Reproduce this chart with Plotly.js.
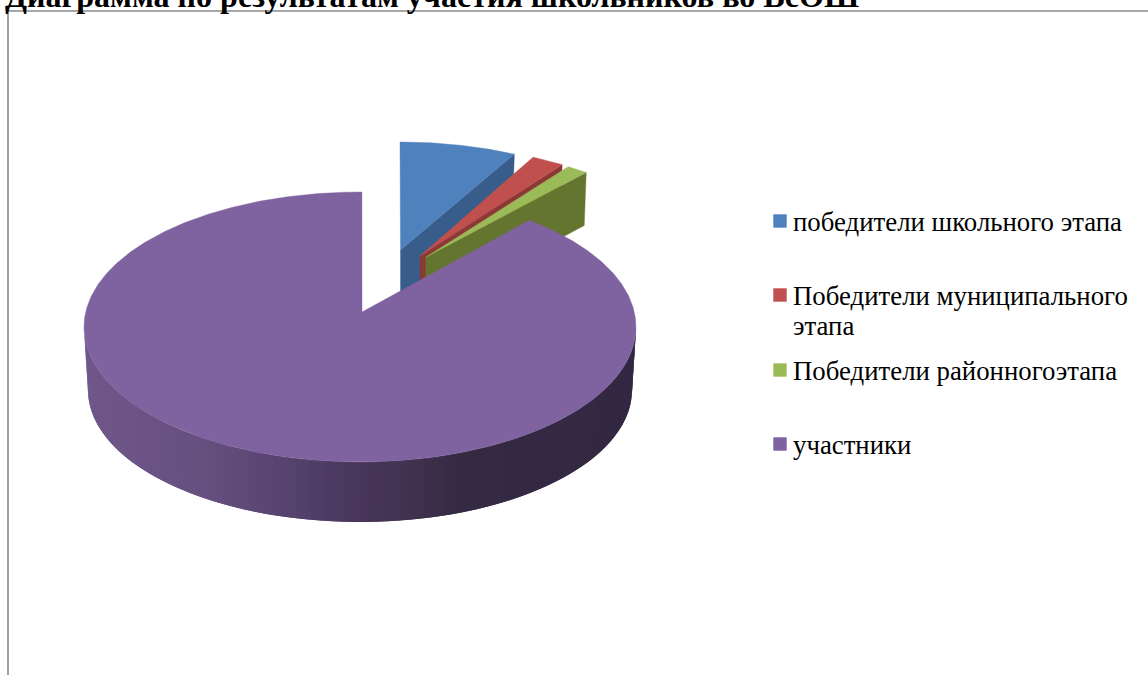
<!DOCTYPE html>
<html><head><meta charset="utf-8">
<script src="https://cdn.plot.ly/plotly-3.0.1.min.js"></script>
<style>html,body{margin:0;padding:0;background:#fff;overflow:hidden}#c{width:1148px;height:675px}</style>
</head><body><div id="c"></div>
<script>
// data (percent of all participants)
const categories = ['победители школьного этапа','Победители муниципального<br>этапа','Победители районногоэтапа','участники'];
const values = [6.8, 1.9, 1.25, 90.05];
const chartTitle = 'Диаграмма по результатам участия школьников во ВсОШ';

// styles
const topColors = ['#4f81bd','#c0504d','#9bbb59','#7f62a0'];
const cutColors = ['#385d8a','#8c3836','#647530','#4a3a5e'];

// projection of the tilted pie, in the pixel-sized axes
const rim = {rx:276, ry:135};
const rimCenters = [[400,277],[418.7,280],[424.7,282],[360,327]];
const apexes = [[400.5,250],[420,256],[425.7,257.3],[362,312]];
const startPad = [0,0,0,2];
const endPad = [0,0,0,0.4];
const depth = [58,55,53,63];
const serif = '"Liberation Serif","Times New Roman",serif';

function rimPoint(i,deg){
  const a = deg*Math.PI/180, c = rimCenters[i];
  return [c[0]+rim.rx*Math.sin(a), c[1]-rim.ry*Math.cos(a)];
}
function poly(pts,fill,lineWidth){
  return {x:pts.map(p=>p[0]),y:pts.map(p=>p[1]),mode:'lines',fill:'toself',fillcolor:fill,
    line:{color:fill,width:lineWidth===undefined?0.4:lineWidth},hoverinfo:'skip',showlegend:false,type:'scatter'};
}
function wallColor(x){
  const stops=[[84,[112,87,138]],[200,[102,80,128]],[300,[84,65,107]],[360,[72,53,91]],[410,[66,50,80]],[460,[52,42,66]],[640,[50,40,66]]];
  for(let k=1;k<stops.length;k++){ if(x<=stops[k][0]){
    const a=stops[k-1],b=stops[k],f=Math.max(0,(x-a[0])/(b[0]-a[0]));
    return 'rgb('+a[1].map((v,j)=>Math.round(v+(b[1][j]-v)*f)).join(',')+')';
  }}
  return 'rgb(50,40,66)';
}
const traces=[];
let cum=0;
values.forEach((v,i)=>{
  const from=cum*3.6+startPad[i], to=(cum+v)*3.6+endPad[i];
  cum+=v;
  const apex=apexes[i], arc=[];
  for(let d=from;d<to;d+=0.5) arc.push(rimPoint(i,d));
  arc.push(rimPoint(i,to));
  if(i<3){
    // visible cut face on the right-hand side of each exploded slice
    const e=arc[arc.length-1];
    traces.push(poly([apex,e,[e[0]-2,e[1]+depth[i]],[apex[0],apex[1]+depth[i]],apex],cutColors[i]));
    traces.push(poly([apex].concat(arc,[apex]),topColors[i]));
  } else {
    // outer wall of the large slice, shaded strip by strip (strips overlap so no seams show)
    const p=(dg)=>{const a=dg*Math.PI/180;return [[360+rim.rx*Math.sin(a),327-rim.ry*Math.cos(a)],[360+272*Math.sin(a),390-132*Math.cos(a)]];};
    for(let d=270;d>90;d-=1.5){
      const pts=[], b=[];
      for(let q=0;q<=3;q++){const r=p(Math.max(88,d-q)); pts.push(r[0]); b.unshift(r[1]);}
      const mx=(p(d)[0][0]+p(d-1.5)[0][0])/2;
      traces.push(poly(pts.concat(b,[pts[0]]),wallColor(mx),0));
    }
    traces.push(poly([apex].concat(arc,[apex]),topColors[i]));
  }
});
// legend
const legendX=780, textX=793, legendY=[221,295,370,444];
const anns=[];
categories.forEach((c,i)=>{
  traces.push({type:'scatter',mode:'markers',x:[legendX],y:[legendY[i]],name:c,showlegend:false,hoverinfo:'skip',
    marker:{symbol:'square',size:13.4,color:topColors[i],line:{width:0}}});
  c.split('<br>').forEach((ln,j)=>{
    anns.push({x:textX,y:legendY[i]+1+j*30,xref:'x',yref:'y',xanchor:'left',yanchor:'middle',showarrow:false,text:ln,
      font:{family:serif,size:26.8,color:'#000'},borderpad:0,borderwidth:0});
  });
});
anns.push({x:4,y:1,xref:'x',yref:'paper',xanchor:'left',yanchor:'bottom',yshift:-15,showarrow:false,text:'<b>'+chartTitle+'</b>',
  font:{family:serif,size:32.1,color:'#000'},borderpad:0});
const layout={width:1148,height:675,margin:{l:0,r:0,t:0,b:0},paper_bgcolor:'#fff',plot_bgcolor:'#fff',showlegend:false,
  xaxis:{range:[0,1148],visible:false,fixedrange:true},
  yaxis:{range:[675,0],visible:false,fixedrange:true},
  annotations:anns,
  shapes:[
   {type:'line',xref:'x',yref:'y',x0:8,x1:1148,y0:11,y1:11,line:{color:'#8a8a8a',width:1.6},layer:'below'},
   {type:'line',xref:'x',yref:'y',x0:8,x1:8,y0:11,y1:675,line:{color:'#8a8a8a',width:1.6},layer:'below'}
  ]};
Plotly.newPlot('c',traces,layout,{staticPlot:true,displayModeBar:false});
</script></body></html>
